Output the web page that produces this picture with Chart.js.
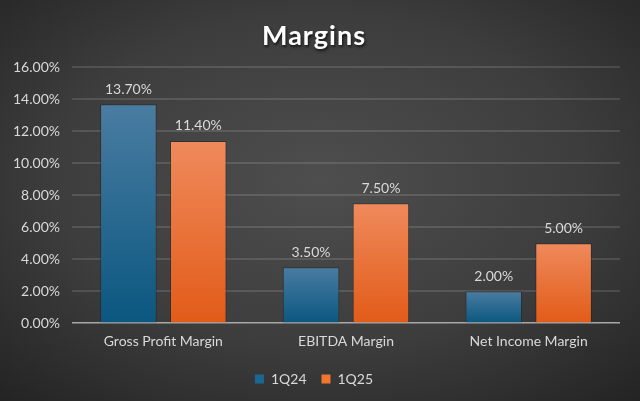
<!DOCTYPE html>
<html lang="en">

<head>
    <meta charset="UTF-8">
    <title>Margins</title>
    <script src="https://cdn.jsdelivr.net/npm/chart.js"></script>
    <style>
        html, body { margin: 0; padding: 0; }
        body {
            width: 640px; height: 401px; overflow: hidden;
            background: radial-gradient(ellipse 75% 75% at 50% 45%, #4e4e4e 0%, #3d3d3d 55%, #232323 100%);
        }
        #wrap { width: 640px; height: 401px; position: relative; }
    </style>
</head>

<body>
    <div id="wrap"><canvas id="chartCanvas"></canvas></div>

    <script>
        // data
        const categories = ["Gross Profit Margin", "EBITDA Margin", "Net Income Margin"];
        const seriesNames = ["1Q24", "1Q25"];
        const values1Q24 = [13.70, 3.50, 2.00];
        const values1Q25 = [11.40, 7.50, 5.00];
        const yTicks = [0, 2, 4, 6, 8, 10, 12, 14, 16];

        const txt = "#d9d9d9";
        const font = "Lato, 'Open Sans', sans-serif";

        // per-bar vertical gradient: light at the top, deep at the base
        function barFill(top, bottom, solid) {
            return (c) => {
                const chart = c.chart;
                const y = chart.scales && chart.scales.y;
                if (!y || !chart.chartArea || c.raw == null) return solid;
                const y0 = y.getPixelForValue(c.raw);
                const y1 = y.getPixelForValue(0);
                const g = chart.ctx.createLinearGradient(0, y0, 0, y1);
                g.addColorStop(0, top);
                g.addColorStop(1, bottom);
                return g;
            };
        }

        const valueLabels = {
            id: "valueLabels",
            afterDatasetsDraw(chart) {
                const ctx = chart.ctx;
                ctx.save();
                ctx.fillStyle = txt;
                ctx.font = "14px " + font;
                ctx.textAlign = "center";
                ctx.textBaseline = "bottom";
                chart.data.datasets.forEach((ds, i) => {
                    chart.getDatasetMeta(i).data.forEach((bar, j) => {
                        ctx.fillText(ds.data[j].toFixed(2) + "%", bar.x, bar.y - 8);
                    });
                });
                ctx.restore();
            }
        };

        const titleShadow = {
            id: "titleShadow",
            afterInit(chart) {
                const tb = chart.titleBlock;
                if (!tb) return;
                const orig = tb.draw.bind(tb);
                tb.draw = function () {
                    const c = chart.ctx;
                    c.save();
                    c.shadowColor = "rgba(0,0,0,0.7)";
                    c.shadowBlur = 3;
                    c.shadowOffsetX = 1;
                    c.shadowOffsetY = 2;
                    c.letterSpacing = "1px";
                    orig();
                    c.restore();
                };
            }
        };

        const legendColors = ["#1a6891", "#f07630"];

        new Chart(document.getElementById("chartCanvas"), {
            type: "bar",
            data: {
                labels: categories,
                datasets: [{
                    label: seriesNames[0],
                    data: values1Q24,
                    backgroundColor: barFill("#4a7ca1", "#0a5780", "#1a6891"),
                    borderColor: "rgba(30,30,30,0.5)",
                    borderWidth: 1
                }, {
                    label: seriesNames[1],
                    data: values1Q25,
                    backgroundColor: barFill("#ef8a5c", "#e25b18", "#f07630"),
                    borderColor: "rgba(30,30,30,0.5)",
                    borderWidth: 1
                }]
            },
            options: {
                responsive: true,
                maintainAspectRatio: false,
                animation: false,
                categoryPercentage: 0.765,
                barPercentage: 0.81,
                layout: { padding: { left: 8, right: 20, top: 0, bottom: 5 } },
                plugins: {
                    title: {
                        display: true,
                        text: "Margins",
                        color: "#ffffff",
                        font: { family: font, size: 27, weight: "bold" },
                        padding: { top: 20, bottom: 15 }
                    },
                    legend: {
                        position: "bottom",
                        labels: {
                            color: txt,
                            font: { family: font, size: 14 },
                            boxWidth: 9,
                            boxHeight: 9,
                            padding: 15,
                            generateLabels: (chart) => chart.data.datasets.map((ds, i) => ({
                                text: ds.label,
                                fillStyle: legendColors[i],
                                strokeStyle: legendColors[i],
                                lineWidth: 0,
                                fontColor: txt,
                                datasetIndex: i
                            }))
                        }
                    },
                    tooltip: { enabled: false }
                },
                scales: {
                    x: {
                        grid: { display: false },
                        border: { display: false },
                        afterFit: (s) => { s.height += 5; },
                        ticks: { color: txt, font: { family: font, size: 14 }, padding: 2 }
                    },
                    y: {
                        min: 0,
                        max: 16,
                        afterBuildTicks: (s) => { s.ticks = yTicks.map(v => ({ value: v })); },
                        afterFit: (s) => { s.width = 64; },
                        border: { display: false },
                        grid: {
                            drawTicks: false,
                            lineWidth: (c) => c.tick && c.tick.value === 0 ? 1.5 : 2,
                            color: (c) => c.tick && c.tick.value === 0 ? "#a8a8a8" : "rgba(255,255,255,0.12)"
                        },
                        ticks: {
                            color: txt,
                            font: { family: font, size: 14 },
                            padding: 12,
                            callback: (v) => v.toFixed(2) + "%"
                        }
                    }
                }
            },
            plugins: [valueLabels, titleShadow]
        });
    </script>
</body>

</html>
